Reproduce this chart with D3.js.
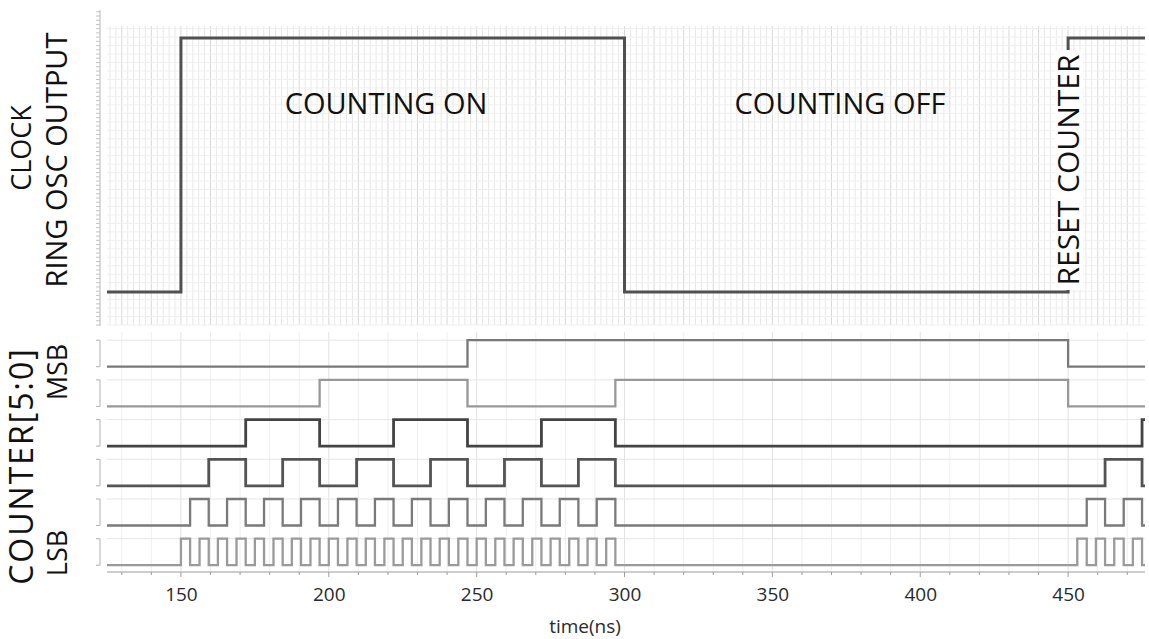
<!DOCTYPE html>
<html>
<head>
<meta charset="utf-8">
<script src="https://cdn.jsdelivr.net/npm/d3@7"></script>
<style>
  body { margin: 0; background: #fff; }
  svg { display: block; font-family: "Open Sans", "DejaVu Sans", sans-serif; }
</style>
</head>
<body>
<svg id="chart" width="1149" height="639"></svg>
<script>
// time axis
const timeDomain = [125, 476];
const timeTicks = [150, 200, 250, 300, 350, 400, 450];

// clock enable (ring osc output), starts low, toggles at each edge (ns)
const clockEdges = [150, 300, 450];

// counter rows, top to bottom
const counterRows = ['bit5', 'bit4', 'bit3', 'bit2', 'bit1', 'bit0'];
const rowColors = ['#787878', '#989898', '#434343', '#545454', '#7a7a7a', '#9a9a9a'];

const bit5Edges = [246.9, 450];
const bit4Edges = [196.9, 246.9, 296.9, 450];
const bit3Edges = [171.9, 196.9, 221.9, 246.9, 271.9, 296.9, 475];
const bit2Edges = [159.4, 171.9, 184.4, 196.9, 209.4, 221.9, 234.4, 246.9, 259.4, 271.9, 284.4, 296.9,
                   462.5, 475];
const bit1Edges = [153.1, 159.4, 165.6, 171.9, 178.1, 184.4, 190.6, 196.9, 203.1, 209.4, 215.6, 221.9,
                   228.1, 234.4, 240.6, 246.9, 253.1, 259.4, 265.6, 271.9, 278.1, 284.4, 290.6, 296.9,
                   456.3, 462.5, 468.8, 475];
const bit0Edges = [150, 153.1, 156.3, 159.4, 162.5, 165.6, 168.8, 171.9, 175, 178.1, 181.3, 184.4,
                   187.5, 190.6, 193.8, 196.9, 200, 203.1, 206.3, 209.4, 212.5, 215.6, 218.8, 221.9,
                   225, 228.1, 231.3, 234.4, 237.5, 240.6, 243.8, 246.9, 250, 253.1, 256.3, 259.4,
                   262.5, 265.6, 268.8, 271.9, 275, 278.1, 281.3, 284.4, 287.5, 290.6, 293.8, 296.9,
                   453.1, 456.3, 459.4, 462.5, 465.6, 468.8, 471.9, 475];

const svg = d3.select('#chart');

const x = d3.scaleLinear()
    .domain(timeDomain)
    .range([107, 1145]);

//turn edge list into step points
function steps(edges) {
    const pts = [[timeDomain[0], 0]];
    let v = 0;
    edges.forEach(function(t) {
        v = 1 - v;
        pts.push([t, v]);
    });
    pts.push([timeDomain[1], v]);
    return pts;
}

/* ---------- top panel: clock ---------- */
const yTop = d3.scaleLinear()
    .domain([0, 1])
    .range([292, 38]);

const topG = svg.append('g').attr('class', 'top-panel');

//fine grid
topG.selectAll('line.vgrid')
    .data(d3.range(126, 476, 2))
    .join('line')
    .attr('x1', d => x(d))
    .attr('x2', d => x(d))
    .attr('y1', 26)
    .attr('y2', 325)
    .attr('stroke', d => d % 10 === 0 ? '#d9d9d9' : '#e8e8e8')
    .attr('stroke-width', 1);

topG.selectAll('line.hgrid')
    .data(d3.range(-0.13, 1.05, 1 / 30))
    .join('line')
    .attr('x1', 107)
    .attr('x2', 1145)
    .attr('y1', d => yTop(d))
    .attr('y2', d => yTop(d))
    .attr('stroke', '#efefef')
    .attr('stroke-width', 1);

//left axis with small ticks
topG.append('line')
    .attr('x1', 100).attr('x2', 100)
    .attr('y1', 10).attr('y2', 326)
    .attr('stroke', '#b5b5b5');
topG.selectAll('line.ltick')
    .data(d3.range(-0.13, 1.12, 1 / 60))
    .join('line')
    .attr('x1', 96).attr('x2', 100)
    .attr('y1', d => yTop(d))
    .attr('y2', d => yTop(d))
    .attr('stroke', '#c4c4c4');

const line = d3.line()
    .x(d => x(d[0]))
    .curve(d3.curveStepAfter);

topG.append('path')
    .datum(steps(clockEdges))
    .attr('d', line.y(d => yTop(d[1])))
    .attr('fill', 'none')
    .attr('stroke', '#505050')
    .attr('stroke-width', 3);

topG.append('text')
    .attr('x', 386)
    .attr('y', 114)
    .attr('text-anchor', 'middle')
    .attr('font-size', 29)
    .attr('fill', '#111')
    .text('COUNTING ON');

topG.append('text')
    .attr('x', 840)
    .attr('y', 114)
    .attr('text-anchor', 'middle')
    .attr('font-size', 29)
    .attr('fill', '#111')
    .text('COUNTING OFF');

//reset label sits on a white box
topG.append('rect')
    .attr('x', 1055)
    .attr('y', 50)
    .attr('width', 28)
    .attr('height', 240)
    .attr('fill', '#fff');
topG.append('text')
    .attr('transform', 'translate(1079,170) rotate(-90)')
    .attr('text-anchor', 'middle')
    .attr('font-size', 30)
    .attr('fill', '#111')
    .text('RESET COUNTER');

/* ---------- bottom panel: counter bits ---------- */
const rowLow = d3.scalePoint()
    .domain(counterRows)
    .range([366.7, 565.2]);
const amp = 26.5;

const bits = {
    bit5: bit5Edges, bit4: bit4Edges, bit3: bit3Edges,
    bit2: bit2Edges, bit1: bit1Edges, bit0: bit0Edges
};

const bottomG = svg.append('g').attr('class', 'bottom-panel');

bottomG.selectAll('line.vgrid')
    .data(d3.range(130, 476, 10))
    .join('line')
    .attr('x1', d => x(d))
    .attr('x2', d => x(d))
    .attr('y1', 332)
    .attr('y2', 571)
    .attr('stroke', d => d % 50 === 0 ? '#e2e2e2' : '#efefef');

bottomG.selectAll('line.hgrid')
    .data(counterRows)
    .join('line')
    .attr('x1', 107)
    .attr('x2', 1145)
    .attr('y1', d => rowLow(d) - amp)
    .attr('y2', d => rowLow(d) - amp)
    .attr('stroke', '#e6e6e6');

//bracket ticks on the left for each row
bottomG.selectAll('path.bracket')
    .data(counterRows)
    .join('path')
    .attr('d', d => {
        const lo = rowLow(d), hi = lo - amp;
        return `M96,${hi}H100V${lo}H96`;
    })
    .attr('fill', 'none')
    .attr('stroke', '#b0b0b0');

counterRows.forEach(function(r, i) {
    bottomG.append('path')
        .datum(steps(bits[r]))
        .attr('d', line.y(d => rowLow(r) - d[1] * amp))
        .attr('fill', 'none')
        .attr('stroke', rowColors[i])
        .attr('stroke-width', i === 2 || i === 3 ? 2.8 : 2.3);
});

/* ---------- time axis ---------- */
const axisG = svg.append('g')
    .attr('transform', 'translate(0,572)');

axisG.append('line')
    .attr('x1', 107).attr('x2', 1145)
    .attr('stroke', '#9c9c9c');

axisG.selectAll('line.mtick')
    .data(d3.range(130, 476, 10))
    .join('line')
    .attr('x1', d => x(d))
    .attr('x2', d => x(d))
    .attr('y1', 0)
    .attr('y2', d => d % 50 === 0 ? 5 : 3)
    .attr('stroke', '#9c9c9c');

const axis = d3.axisBottom(x)
    .tickValues(timeTicks)
    .tickSize(0)
    .tickPadding(16);
const ag = axisG.append('g').call(axis);
ag.select('.domain').remove();
ag.selectAll('text')
    .attr('font-size', 19)
    .attr('font-family', '"Open Sans", sans-serif')
    .attr('fill', '#2a2a2a');

svg.append('text')
    .attr('x', 585)
    .attr('y', 633)
    .attr('text-anchor', 'middle')
    .attr('font-size', 19)
    .attr('fill', '#2a2a2a')
    .text('time(ns)');

/* ---------- left titles ---------- */
const titles = [
    {t: 'CLOCK', x: 31, y: 148, size: 27, ls: 0},
    {t: 'RING OSC OUTPUT', x: 67, y: 160, size: 29, ls: 0},
    {t: 'COUNTER[5:0]', x: 33, y: 466, size: 32, ls: 2},
    {t: 'MSB', x: 67, y: 372, size: 27, ls: 0},
    {t: 'LSB', x: 67, y: 553, size: 27, ls: 0}
];
svg.selectAll('text.title')
    .data(titles)
    .join('text')
    .attr('class', 'title')
    .attr('transform', d => `translate(${d.x},${d.y}) rotate(-90)`)
    .attr('text-anchor', 'middle')
    .attr('font-size', d => d.size)
    .attr('letter-spacing', d => d.ls)
    .attr('fill', '#111')
    .text(d => d.t);
</script>
</body>
</html>
